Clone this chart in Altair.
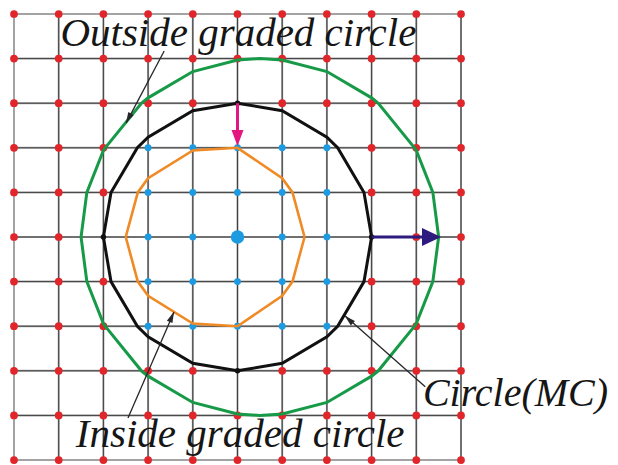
import altair as alt
import pandas as pd

# ---------------- data ----------------
grid_ticks = [-5, -4, -3, -2, -1, 0, 1, 2, 3, 4, 5]

# inside points (blue)
blue_x = [-2, -1, 0, 1, 2,  -2, -1, 0, 1, 2,  -2, -1, 1, 2,  -2, -1, 0, 1, 2,  -2, -1, 0, 1, 2]
blue_y = [2, 2, 2, 2, 2,    1, 1, 1, 1, 1,    0, 0, 0, 0,    -1, -1, -1, -1, -1, -2, -2, -2, -2, -2]
# points on circle (black)
black_x = [0, -3, 3, 0]
black_y = [3, 0, 0, -3]
# center
center_x = [0]
center_y = [0]

# Circle (MC) polygon
mc_x = [3, 2.83, 2.24, 2, 1, 0, -1, -2, -2.24, -2.83, -3, -2.83, -2.24, -2, -1, 0, 1, 2, 2.24, 2.83, 3]
mc_y = [0, 1, 2, 2.24, 2.83, 3, 2.83, 2.24, 2, 1, 0, -1, -2, -2.24, -2.83, -3, -2.83, -2.24, -2, -1, 0]
# outside graded circle polygon
out_x = [4.5, 4.37, 4, 3.96, 3.15, 3, 2, 1, 0.5, 0, -1, -2, -2.15, -2.96, -3, -3.37, -3.5,
         -3.37, -3, -2.96, -2.15, -2, -1, 0, 0.5, 1, 2, 3, 3.15, 3.96, 4, 4.37, 4.5]
out_y = [0, 1, 1.94, 2, 3, 3.12, 3.71, 3.97, 4, 3.97, 3.71, 3.12, 3, 2, 1.94, 1, 0,
         -1, -1.94, -2, -3, -3.12, -3.71, -3.97, -4, -3.97, -3.71, -3.12, -3, -2, -1.94, -1, 0]
# inside graded circle polygon
in_x = [1.5, 1.23, 1, 0, -1, -2, -2.23, -2.5, -2.23, -2, -1, 0, 1, 1.23, 1.5]
in_y = [0, 1, 1.32, 2, 1.94, 1.32, 1, 0, -1, -1.32, -1.94, -2, -1.32, -1, 0]

# arrows
mag_x = [0, 0]
mag_y = [3, 2.22]
navy_x = [3, 4.34]
navy_y = [0, 0]

# annotations
labels = ["Outside graded circle", "Inside graded circle", "Circle(MC)"]
label_x = [0.02, 0.06, 8.29]
label_y = [4.28, -4.70, -3.79]
label_align = ["center", "center", "right"]
label_size = [41, 41, 40]
ann_x0 = [-1.64, -2.45, 4.20]
ann_y0 = [4.17, -4.06, -3.36]
ann_x1 = [-2.49, -1.42, 2.41]
ann_y1 = [2.56, -1.68, -1.77]
ann_hx = [-2.44, -1.47, 2.49]
ann_hy = [2.66, -1.79, -1.85]
ann_angle = [208, 23, 312]

# ---------------- frames ----------------
blue_set = set(zip(blue_x, blue_y))
black_set = set(zip(black_x, black_y))
cent_set = set(zip(center_x, center_y))
red_pts = [(gx, gy) for gy in grid_ticks for gx in grid_ticks
           if (gx, gy) not in blue_set and (gx, gy) not in black_set and (gx, gy) not in cent_set]
red_df = pd.DataFrame(red_pts, columns=["x", "y"])
blue_df = pd.DataFrame({"x": blue_x, "y": blue_y})
black_df = pd.DataFrame({"x": black_x, "y": black_y})
center_df = pd.DataFrame({"x": center_x, "y": center_y})

vlines = pd.DataFrame({"x": grid_ticks, "x2": grid_ticks,
                       "y": [grid_ticks[0]] * len(grid_ticks), "y2": [grid_ticks[-1]] * len(grid_ticks)})
hlines = pd.DataFrame({"y": grid_ticks, "y2": grid_ticks,
                       "x": [grid_ticks[0]] * len(grid_ticks), "x2": [grid_ticks[-1]] * len(grid_ticks)})
lines_all = pd.concat([vlines, hlines], ignore_index=True)
inner = pd.concat([vlines[vlines.x > grid_ticks[0]], hlines[(hlines.y < grid_ticks[-1]) & (hlines.y > grid_ticks[0])]],
                  ignore_index=True)


def poly(xs, ys):
    return pd.DataFrame({"x": xs, "y": ys, "i": list(range(len(xs)))})


XMIN, XMAX = -5.1342, 8.3333
YMIN, YMAX = -5.112, 5.1345


def X(f="x"):
    return alt.X(f, type="quantitative", scale=alt.Scale(domain=[XMIN, XMAX], nice=False, zero=False), axis=None)


def Y(f="y"):
    return alt.Y(f, type="quantitative", scale=alt.Scale(domain=[YMIN, YMAX], nice=False, zero=False), axis=None)


grid_gray = alt.Chart(lines_all).mark_rule(color="#a3a3a3", strokeWidth=2).encode(
    x=X(), y=Y(), x2="x2", y2="y2")
grid_black = alt.Chart(inner).mark_rule(color="#333333", strokeWidth=0.9).encode(
    x=X(), y=Y(), x2="x2", y2="y2")

red = alt.Chart(red_df).mark_circle(color="#e1262b", size=60, opacity=1).encode(x=X(), y=Y())
blue = alt.Chart(blue_df).mark_circle(color="#1d9be2", size=48, opacity=1).encode(x=X(), y=Y())


def poly_layer(xs, ys, color, w):
    return alt.Chart(poly(xs, ys)).mark_line(color=color, strokeWidth=w, strokeJoin="miter").encode(
        x=X(), y=Y(), order="i:Q")


green_l = poly_layer(out_x, out_y, "#179a48", 3)
black_l = poly_layer(mc_x, mc_y, "#111111", 3)
orange_l = poly_layer(in_x, in_y, "#f08a24", 2.6)

black_pts = alt.Chart(black_df).mark_circle(color="#111111", size=30, opacity=1).encode(x=X(), y=Y())
center_pt = alt.Chart(center_df).mark_circle(color="#1d9be2", size=180, opacity=1).encode(x=X(), y=Y())

mag_line = alt.Chart(poly(mag_x, mag_y)).mark_line(color="#e3177f", strokeWidth=3).encode(x=X(), y=Y(), order="i:Q")
mag_head = alt.Chart(pd.DataFrame({"x": [mag_x[1]], "y": [mag_y[1]]})).mark_point(
    shape="M0,-1L0.75,1L-0.75,1Z", size=256, filled=True, color="#e3177f", opacity=1, angle=180).encode(x=X(), y=Y())
navy_line = alt.Chart(poly(navy_x, navy_y)).mark_line(color="#2d1b7d", strokeWidth=3).encode(x=X(), y=Y(), order="i:Q")
navy_head = alt.Chart(pd.DataFrame({"x": [navy_x[1]], "y": [navy_y[1]]})).mark_point(
    shape="M0,-1L0.95,1L-0.95,1Z", size=361, filled=True, color="#2d1b7d", opacity=1, angle=90).encode(x=X(), y=Y())

ann_df = pd.DataFrame({"x": ann_x0, "y": ann_y0, "x2": ann_x1, "y2": ann_y1})
ann_lines = alt.Chart(ann_df).mark_rule(color="#262626", strokeWidth=1.3).encode(x=X(), y=Y(), x2="x2", y2="y2")
head_df = pd.DataFrame({"x": ann_hx, "y": ann_hy, "a": ann_angle})
ann_heads = alt.Chart(head_df).mark_point(
    shape="M0,-1L0.55,1L-0.55,1Z", size=121, filled=True, color="#262626", opacity=1).encode(
    x=X(), y=Y(), angle=alt.Angle("a:Q", scale=None))

text_layers = []
for lab, lx, ly, la, ls in zip(labels, label_x, label_y, label_align, label_size):
    text_layers.append(
        alt.Chart(pd.DataFrame({"x": [lx], "y": [ly], "t": [lab]})).mark_text(
            font="Liberation Serif", fontStyle="italic", fontSize=ls, color="#161616",
            align=la, baseline="alphabetic").encode(x=X(), y=Y(), text="t:N"))

chart = alt.layer(
    grid_gray, grid_black, red, blue, green_l, black_l, orange_l, black_pts, center_pt,
    mag_line, mag_head, navy_line, navy_head, ann_lines, ann_heads, *text_layers
).properties(width=602, height=457, padding=0, autosize="none").configure_view(stroke=None)

chart.save("out.html", embed_options={"renderer": "svg", "actions": False})
